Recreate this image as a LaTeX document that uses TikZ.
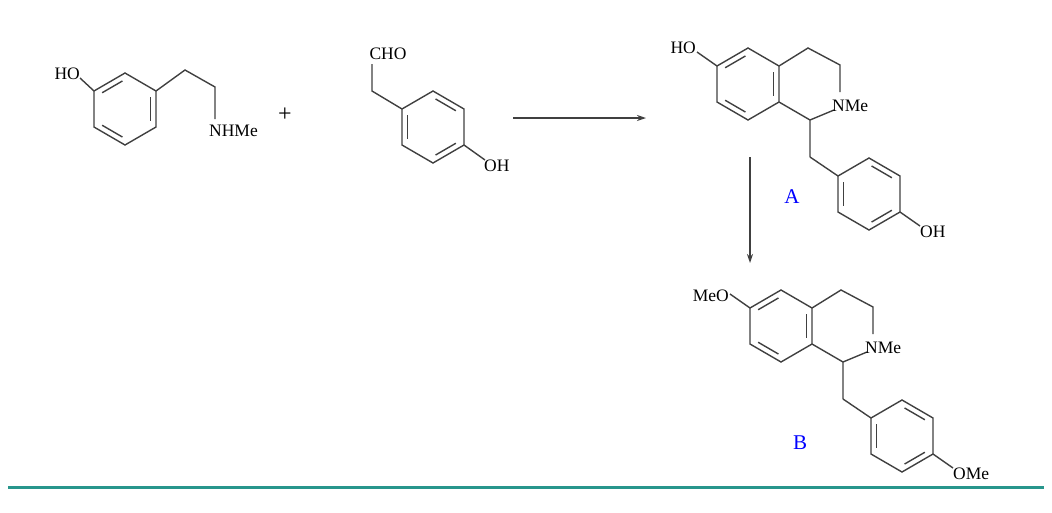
\documentclass[tikz,border=0pt]{standalone}
\usepackage{fontspec}
\setmainfont{Liberation Serif}
\usetikzlibrary{calc,arrows.meta}
\newcommand\benz[3]{%
 \coordinate (#1c) at (#2,#3);
 \coordinate (#1-1) at (#2,#3-36);
 \coordinate (#1-2) at (#2+31,#3-18);
 \coordinate (#1-3) at (#2+31,#3+18);
 \coordinate (#1-4) at (#2,#3+36);
 \coordinate (#1-5) at (#2-31,#3+18);
 \coordinate (#1-6) at (#2-31,#3-18);
 \draw[bond] (#1-1)--(#1-2)--(#1-3)--(#1-4)--(#1-5)--(#1-6)--cycle;}
\newcommand\dbl[3]{\draw[bond] ($($(#1c)!0.82!(#1-#2)$)!0.1!($(#1c)!0.82!(#1-#3)$)$) -- ($($(#1c)!0.82!(#1-#2)$)!0.9!($(#1c)!0.82!(#1-#3)$)$);}
\newcommand\thiq[4]{% prefix, left label, right label text, N label
 \benz{#1L}{748}{84}
 \dbl{#1L}{6}{1}\dbl{#1L}{2}{3}\dbl{#1L}{4}{5}
 \coordinate (#1a) at (808,48);
 \coordinate (#1b) at (840,65);
 \coordinate (#1n) at (840,92);
 \coordinate (#1n2) at (834,110);
 \coordinate (#1c1) at (810,120);
 \coordinate (#1ch) at (810,157);
 \draw[bond] (#1L-2)--(#1a)--(#1b)--(#1n) (#1n2)--(#1c1)--(#1L-3) (#1c1)--(#1ch);
 \benz{#1R}{869}{194}
 \dbl{#1R}{1}{2}\dbl{#1R}{3}{4}\dbl{#1R}{5}{6}
 \draw[bond] (#1ch)--(#1R-6);
 #2
 #3
 \node[lab,anchor=west] (#1N) at (832,106) {#4};}
\tikzset{bond/.style={draw=black!75,line width=1.4pt},
 lab/.style={inner sep=0pt,font=\fontsize{17.5}{17.5}\selectfont}}
\begin{document}
\begin{tikzpicture}[x=1pt,y=-1pt]
\useasboundingbox (0,0) rectangle (1052,512);
% molecule 1
\benz{m}{125}{109}
\dbl{m}{6}{1}\dbl{m}{2}{3}\dbl{m}{4}{5}
\coordinate (m7) at (185,70);
\coordinate (m8) at (215,87);
\coordinate (m9) at (215,119);
\draw[bond] (m-2)--(m7)--(m8)--(m9);
\coordinate (mo) at (80,78);
\draw[bond] (m-6)--(mo);
\node[lab,anchor=east] (mHO) at (80,74) {HO};
\node[lab,anchor=west] (mN) at (209,131) {NHMe};
\node[lab,font=\fontsize{24}{24}\selectfont] (plus) at (285,115) {+};
% molecule 2
\benz{p}{433}{127}
\dbl{p}{1}{2}\dbl{p}{3}{4}\dbl{p}{5}{6}
\coordinate (p7) at (372,91);
\coordinate (p8) at (372,64);
\draw[bond] (p-6)--(p7)--(p8);
\node[lab] (pCHO) at (388,54) {CHO};
\coordinate (po) at (485,160);
\draw[bond] (p-3)--(po);
\node[lab,anchor=west] (pOH) at (484,166) {OH};
% arrow
\coordinate (ar1) at (513,118); \coordinate (ar2) at (646,118);
\draw[bond,-{Stealth[length=9pt,width=6pt]}] (ar1)--(ar2);
% product A
\thiq{A}{\coordinate (Aho) at (697,52);\draw[bond] (AL-6)--(Aho);\node[lab,anchor=east] (AHO) at (696,48) {HO};}
 {\coordinate (Aoh) at (920,226);\draw[bond] (AR-3)--(Aoh);\node[lab,anchor=west] (AOH) at (920,232) {OH};}{NMe}
\node[lab,text=blue,font=\fontsize{21}{21}\selectfont] (Alab) at (792,197) {A};
\coordinate (dar1) at (750,157); \coordinate (dar2) at (750,263);
\draw[bond,-{Stealth[length=9pt,width=6pt]}] (dar1)--(dar2);
% product B
\begin{scope}[shift={(33,242)}]
\thiq{B}{\coordinate (Bho) at (697,52);\draw[bond] (BL-6)--(Bho);\node[lab,anchor=east] (BHO) at (696,54) {MeO};}
 {\coordinate (Boh) at (920,226);\draw[bond] (BR-3)--(Boh);\node[lab,anchor=west] (BOH) at (920,232) {OMe};}{NMe}
\end{scope}
\node[lab,text=blue,font=\fontsize{21}{21}\selectfont] (Blab) at (800,443) {B};
\coordinate (t1) at (8,487); \coordinate (t2) at (1044,487);
\draw[line width=3pt,color={rgb,255:red,40;green,150;blue,140}] (t1)--(t2);
\end{tikzpicture}
\end{document}
